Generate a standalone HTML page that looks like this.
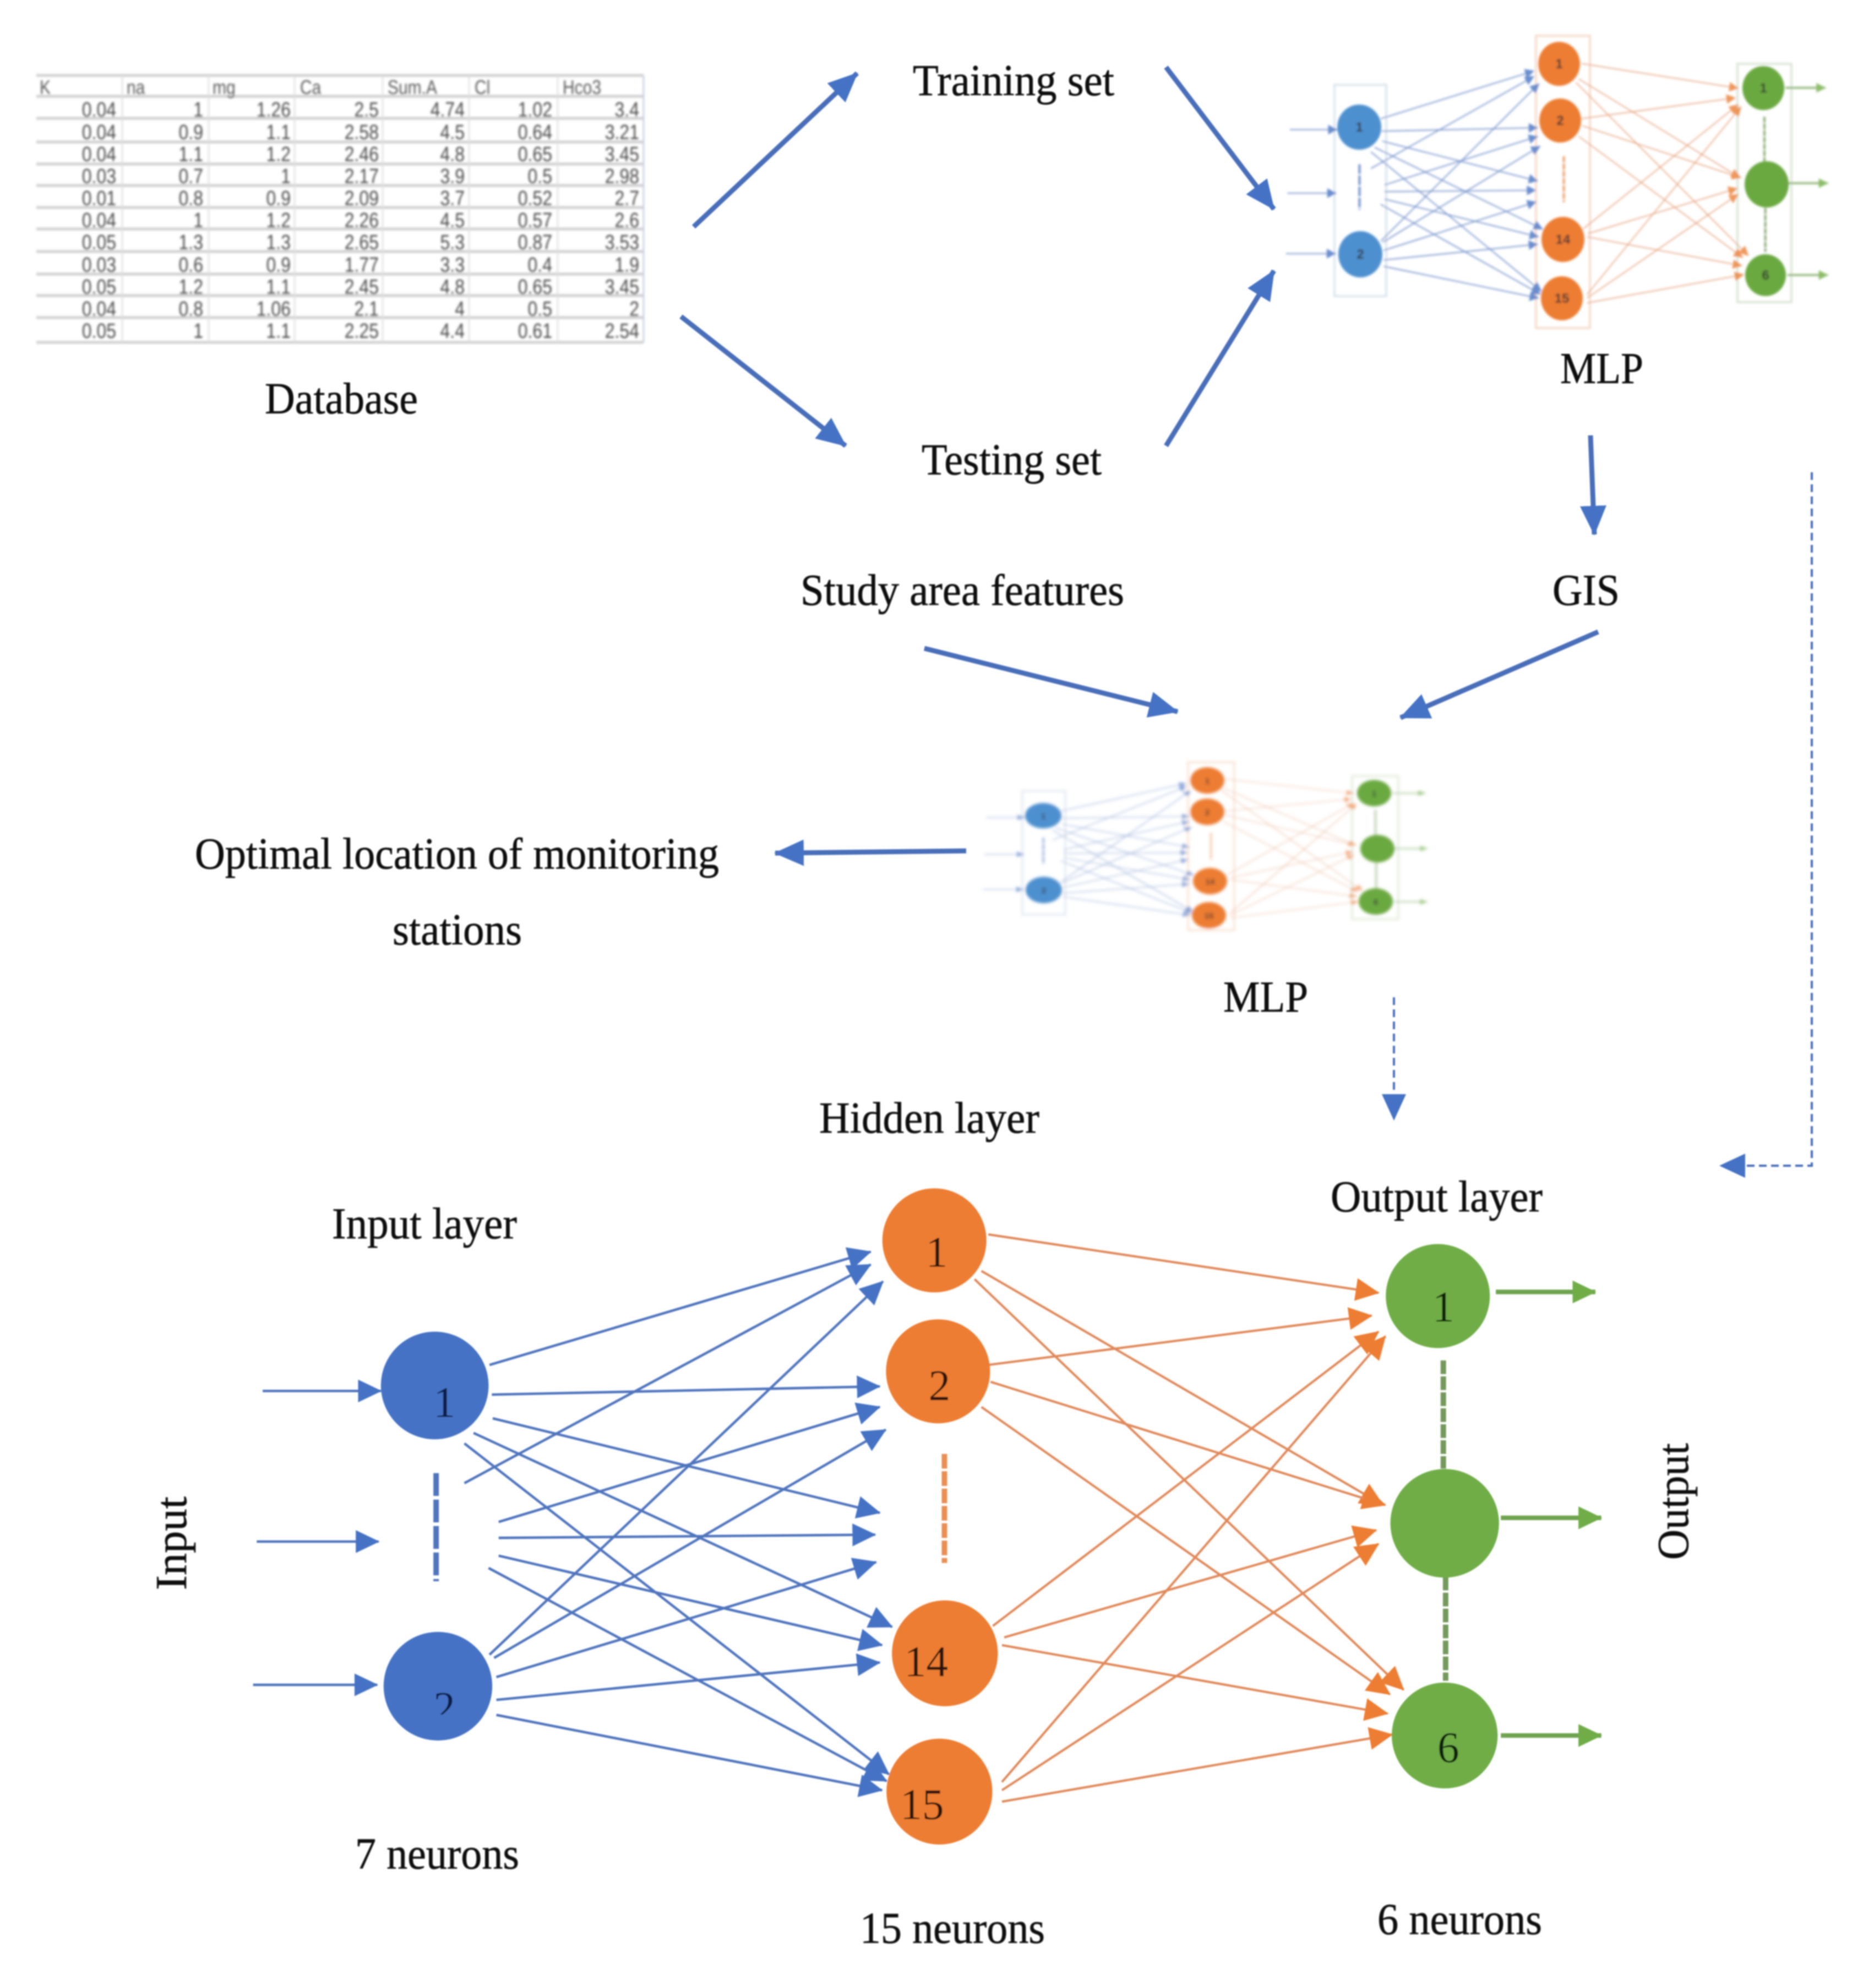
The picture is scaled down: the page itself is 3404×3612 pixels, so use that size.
<!DOCTYPE html>
<html><head><meta charset="utf-8"><title>MLP diagram</title>
<style>
html,body{margin:0;padding:0;background:#fff}
svg{display:block}
.t{font-family:"Liberation Serif",serif;font-size:80px;fill:#0c0c0c;stroke:#0c0c0c;stroke-width:.6}
.c text{font-family:"Liberation Sans",sans-serif;font-size:32px;fill:#4a4a4a;text-anchor:end}
.h{font-family:"Liberation Sans",sans-serif;font-size:30px;fill:#5a5a5a}
.n{font-family:"Liberation Serif",serif;font-size:96px;fill:#111}
.bl line{stroke:#4f74bd;stroke-width:5.5;marker-end:url(#mb)}
.ol line{stroke:#e0895a;stroke-width:5;marker-end:url(#mo)}
.gl line{stroke:#70a34f;stroke-width:10;marker-end:url(#mg)}
.big line{stroke:#4a6eb9;stroke-width:9;marker-end:url(#mB)}
.m1{font-family:"Liberation Sans",sans-serif;font-size:24px;fill:#333;text-anchor:middle;font-weight:bold}
.m2{font-family:"Liberation Sans",sans-serif;font-size:15px;fill:#333;text-anchor:middle;font-weight:bold}
</style></head>
<body>
<svg xmlns="http://www.w3.org/2000/svg" width="3404" height="3612" viewBox="0 0 3404 3612">
<defs>
<filter id="b1"><feGaussianBlur stdDeviation="1.3"/></filter>
<filter id="b2"><feGaussianBlur stdDeviation="2.2"/></filter>
<filter id="b3" x="-5%" y="-5%" width="110%" height="110%"><feGaussianBlur stdDeviation="3"/></filter>
<marker id="mb" markerUnits="userSpaceOnUse" markerWidth="60" markerHeight="60" refX="50" refY="30" orient="auto"><path d="M0 5L52 30L0 55Z" fill="#4472c4"/></marker>
<marker id="mo" markerUnits="userSpaceOnUse" markerWidth="60" markerHeight="60" refX="50" refY="30" orient="auto"><path d="M0 5L52 30L0 55Z" fill="#ed7d31"/></marker>
<marker id="mg" markerUnits="userSpaceOnUse" markerWidth="60" markerHeight="60" refX="50" refY="30" orient="auto"><path d="M0 5L52 30L0 55Z" fill="#70ad47"/></marker>
<marker id="mB" markerUnits="userSpaceOnUse" markerWidth="70" markerHeight="70" refX="52" refY="35" orient="auto"><path d="M0 11L54 35L0 59Z" fill="#4472c4"/></marker>
<clipPath id="cl2"><rect x="430" y="1060" width="120" height="104"/></clipPath>
<g id="netlines">
 <g transform="translate(400,2150) scale(.8291)">
  <g class="bl">
   <line x1="590" y1="398" x2="1425" y2="150"/>
   <line x1="595" y1="463" x2="1445" y2="445"/>
   <line x1="597" y1="515" x2="1445" y2="722"/>
   <line x1="555" y1="547" x2="1472" y2="972"/>
   <line x1="535" y1="570" x2="1465" y2="1295"/>
   <line x1="535" y1="657" x2="1425" y2="178"/>
   <line x1="610" y1="742" x2="1445" y2="490"/>
   <line x1="610" y1="777" x2="1435" y2="770"/>
   <line x1="610" y1="816" x2="1450" y2="1012"/>
   <line x1="588" y1="843" x2="1460" y2="1310"/>
   <line x1="590" y1="1033" x2="1452" y2="215"/>
   <line x1="600" y1="1040" x2="1458" y2="540"/>
   <line x1="605" y1="1082" x2="1437" y2="830"/>
   <line x1="605" y1="1132" x2="1445" y2="1050"/>
   <line x1="605" y1="1165" x2="1450" y2="1330"/>
   <line x1="93" y1="455" x2="352" y2="455"/>
   <line x1="80" y1="785" x2="347" y2="785"/>
   <line x1="72" y1="1099" x2="344" y2="1099"/>
  </g>
  <path d="M473 635V872" stroke="#4f74bd" stroke-width="12" stroke-dasharray="50 8" fill="none"/>
 </g>
 <g transform="translate(1650,2150) scale(.8291)">
  <g class="ol">
   <line x1="175" y1="112" x2="1030" y2="240"/>
   <line x1="160" y1="192" x2="1040" y2="705"/>
   <line x1="145" y1="210" x2="1085" y2="1110"/>
   <line x1="175" y1="398" x2="1015" y2="290"/>
   <line x1="180" y1="435" x2="1045" y2="705"/>
   <line x1="160" y1="490" x2="1055" y2="1120"/>
   <line x1="185" y1="970" x2="1030" y2="325"/>
   <line x1="210" y1="995" x2="1025" y2="760"/>
   <line x1="205" y1="1012" x2="1050" y2="1162"/>
   <line x1="205" y1="1312" x2="1045" y2="335"/>
   <line x1="205" y1="1330" x2="1030" y2="790"/>
   <line x1="205" y1="1355" x2="1060" y2="1208"/>
  </g>
  <path d="M79 593V832" stroke="#e98f52" stroke-width="12" stroke-dasharray="32 6" fill="none"/>
  <path d="M1172 388V625M1177 862V1090" stroke="#74995c" stroke-width="12" stroke-dasharray="30 5" fill="none"/>
  <g class="gl">
   <line x1="1287" y1="238" x2="1505" y2="238"/>
   <line x1="1298" y1="733" x2="1518" y2="733"/>
   <line x1="1298" y1="1210" x2="1518" y2="1210"/>
  </g>
 </g>
</g>
</defs>

<!-- table -->
<g filter="url(#b2)">
 <g stroke="#cfcfcf" stroke-width="5" fill="none">
  <path d="M66 137H1169M66 175H1169M66 215H1169M66 258H1169M66 298H1169M66 337H1169M66 377H1169M66 416H1169M66 457H1169M66 498H1169M66 537H1169M66 577H1169M66 622H1169"/>
 </g>
 <g stroke="#dfdfdf" stroke-width="2.5" fill="none">
  <path d="M222 137V622M379 137V622M535 137V622M695 137V622M852 137V622M1013 137V622"/>
 </g>
 <path d="M1169 137V622" stroke="#c8d2e0" stroke-width="3"/>
 <g transform="translate(0,171) scale(1,1.2)"><text class="h" x="72">K</text><text class="h" x="230">na</text><text class="h" x="386">mg</text><text class="h" x="545">Ca</text><text class="h" x="704">Sum.A</text><text class="h" x="862">Cl</text><text class="h" x="1022">Hco3</text></g>
 <g class="c" transform="translate(0,212) scale(1,1.2)"><text x="211">0.04</text><text x="369">1</text><text x="528">1.26</text><text x="688">2.5</text><text x="844">4.74</text><text x="1003">1.02</text><text x="1161">3.4</text></g>
 <g class="c" transform="translate(0,253) scale(1,1.2)"><text x="211">0.04</text><text x="369">0.9</text><text x="528">1.1</text><text x="688">2.58</text><text x="844">4.5</text><text x="1003">0.64</text><text x="1161">3.21</text></g>
 <g class="c" transform="translate(0,293) scale(1,1.2)"><text x="211">0.04</text><text x="369">1.1</text><text x="528">1.2</text><text x="688">2.46</text><text x="844">4.8</text><text x="1003">0.65</text><text x="1161">3.45</text></g>
 <g class="c" transform="translate(0,333) scale(1,1.2)"><text x="211">0.03</text><text x="369">0.7</text><text x="528">1</text><text x="688">2.17</text><text x="844">3.9</text><text x="1003">0.5</text><text x="1161">2.98</text></g>
 <g class="c" transform="translate(0,373) scale(1,1.2)"><text x="211">0.01</text><text x="369">0.8</text><text x="528">0.9</text><text x="688">2.09</text><text x="844">3.7</text><text x="1003">0.52</text><text x="1161">2.7</text></g>
 <g class="c" transform="translate(0,413) scale(1,1.2)"><text x="211">0.04</text><text x="369">1</text><text x="528">1.2</text><text x="688">2.26</text><text x="844">4.5</text><text x="1003">0.57</text><text x="1161">2.6</text></g>
 <g class="c" transform="translate(0,453) scale(1,1.2)"><text x="211">0.05</text><text x="369">1.3</text><text x="528">1.3</text><text x="688">2.65</text><text x="844">5.3</text><text x="1003">0.87</text><text x="1161">3.53</text></g>
 <g class="c" transform="translate(0,494) scale(1,1.2)"><text x="211">0.03</text><text x="369">0.6</text><text x="528">0.9</text><text x="688">1.77</text><text x="844">3.3</text><text x="1003">0.4</text><text x="1161">1.9</text></g>
 <g class="c" transform="translate(0,534) scale(1,1.2)"><text x="211">0.05</text><text x="369">1.2</text><text x="528">1.1</text><text x="688">2.45</text><text x="844">4.8</text><text x="1003">0.65</text><text x="1161">3.45</text></g>
 <g class="c" transform="translate(0,574) scale(1,1.2)"><text x="211">0.04</text><text x="369">0.8</text><text x="528">1.06</text><text x="688">2.1</text><text x="844">4</text><text x="1003">0.5</text><text x="1161">2</text></g>
 <g class="c" transform="translate(0,614) scale(1,1.2)"><text x="211">0.05</text><text x="369">1</text><text x="528">1.1</text><text x="688">2.25</text><text x="844">4.4</text><text x="1003">0.61</text><text x="1161">2.54</text></g>
</g>

<!-- labels and large arrows -->
<g filter="url(#b1)">
 <text class="t" x="481" y="751" textLength="278" lengthAdjust="spacingAndGlyphs">Database</text>
 <text class="t" x="1658" y="173" textLength="366" lengthAdjust="spacingAndGlyphs">Training set</text>
 <text class="t" x="1674" y="862" textLength="327" lengthAdjust="spacingAndGlyphs">Testing set</text>
 <text class="t" x="2834" y="696" textLength="151" lengthAdjust="spacingAndGlyphs">MLP</text>
 <text class="t" x="1454" y="1099" textLength="588" lengthAdjust="spacingAndGlyphs">Study area features</text>
 <text class="t" x="2820" y="1099" textLength="122" lengthAdjust="spacingAndGlyphs">GIS</text>
 <text class="t" x="354" y="1578" textLength="952" lengthAdjust="spacingAndGlyphs">Optimal location of monitoring</text>
 <text class="t" x="713" y="1716" textLength="235" lengthAdjust="spacingAndGlyphs">stations</text>
 <text class="t" x="2222" y="1838" textLength="154" lengthAdjust="spacingAndGlyphs">MLP</text>
 <text class="t" x="1488" y="2058" textLength="400" lengthAdjust="spacingAndGlyphs">Hidden layer</text>
 <text class="t" x="603" y="2250" textLength="336" lengthAdjust="spacingAndGlyphs">Input layer</text>
 <text class="t" x="2417" y="2201" textLength="385" lengthAdjust="spacingAndGlyphs">Output layer</text>
 <text class="t" x="645" y="3395" textLength="298" lengthAdjust="spacingAndGlyphs">7 neurons</text>
 <text class="t" x="1562" y="3530" textLength="336" lengthAdjust="spacingAndGlyphs">15 neurons</text>
 <text class="t" x="2502" y="3514" textLength="299" lengthAdjust="spacingAndGlyphs">6 neurons</text>
 <text class="t" transform="translate(338,2889) rotate(-90)" textLength="170" lengthAdjust="spacingAndGlyphs">Input</text>
 <text class="t" transform="translate(3066,2834) rotate(-90)" textLength="212" lengthAdjust="spacingAndGlyphs">Output</text>
 <g class="big">
  <line x1="1260" y1="412" x2="1557" y2="133"/>
  <line x1="2118" y1="122" x2="2314" y2="380"/>
  <line x1="1237" y1="575" x2="1536" y2="810"/>
  <line x1="2118" y1="810" x2="2314" y2="492"/>
  <line x1="2889" y1="791" x2="2896" y2="971"/>
  <line x1="1679" y1="1178" x2="2139" y2="1293"/>
  <line x1="2903" y1="1148" x2="2544" y2="1304"/>
  <line x1="1755" y1="1546" x2="1408" y2="1550"/>
 </g>
 <path d="M2532 1812V1990" stroke="#4a6eb9" stroke-width="4" stroke-dasharray="14 8" fill="none"/>
 <path d="M2510 1988H2554L2532 2036Z" fill="#4472c4"/>
 <path d="M3291 858V2118H3165" stroke="#4a6eb9" stroke-width="4" stroke-dasharray="14 8" fill="none"/>
 <path d="M3170 2096V2140L3123 2118Z" fill="#4472c4"/>

 <!-- main network -->
 <use href="#netlines"/>
 <g transform="translate(400,2150) scale(.8291)">
  <circle cx="470" cy="443" r="118" fill="#4472c4"/>
  <circle cx="477" cy="1102" r="119" fill="#4472c4"/>
  <text class="n" x="467" y="512" style="fill:#0d1f4a">1</text>
  <text class="n" x="467" y="1180" clip-path="url(#cl2)" style="fill:#0d1f4a">2</text>
 </g>
 <g transform="translate(1650,2150) scale(.8291)">
  <circle cx="57" cy="125" r="114" fill="#ed7d31"/>
  <circle cx="65" cy="412" r="114" fill="#ed7d31"/>
  <circle cx="80" cy="1030" r="116" fill="#ed7d31"/>
  <circle cx="68" cy="1333" r="116" fill="#ed7d31"/>
  <circle cx="1160" cy="247" r="114" fill="#70ad47"/>
  <circle cx="1175" cy="745" r="119" fill="#70ad47"/>
  <circle cx="1175" cy="1210" r="116" fill="#70ad47"/>
  <text class="n" x="38" y="183" style="fill:#2a1408">1</text>
  <text class="n" x="44" y="475" style="fill:#2a1408">2</text>
  <text class="n" x="-9" y="1080" style="fill:#2a1408">14</text>
  <text class="n" x="-18" y="1393" style="fill:#2a1408">15</text>
  <text class="n" x="1148" y="303" style="fill:#10240a">1</text>
  <text class="n" x="1159" y="1268" style="fill:#10240a">6</text>
 </g>
</g>

<!-- top mini MLP -->
<g filter="url(#b2)">
 <g fill="none" stroke-width="4">
  <rect x="2424" y="154" width="94" height="384" stroke="#dde6ef"/>
  <rect x="2790" y="65" width="98" height="531" stroke="#f6ddcd"/>
  <rect x="3156" y="116" width="98" height="433" stroke="#dde6d8"/>
 </g>
 <use href="#netlines" transform="translate(2151,-831) scale(.402,.422)" opacity=".8"/>
 <ellipse cx="2469" cy="231" rx="40" ry="41" fill="#4e90cf"/>
 <ellipse cx="2471" cy="462" rx="40" ry="42" fill="#4e90cf"/>
 <ellipse cx="2832" cy="116" rx="38" ry="40" fill="#ed7d31"/>
 <ellipse cx="2834" cy="219" rx="38" ry="40" fill="#ed7d31"/>
 <ellipse cx="2839" cy="435" rx="39" ry="41" fill="#ed7d31"/>
 <ellipse cx="2837" cy="542" rx="38" ry="40" fill="#ed7d31"/>
 <ellipse cx="3203" cy="160" rx="38" ry="40" fill="#6aa93f"/>
 <ellipse cx="3209" cy="335" rx="40" ry="42" fill="#6aa93f"/>
 <ellipse cx="3207" cy="500" rx="37" ry="38" fill="#6aa93f"/>
 <text class="m1" x="2469" y="239">1</text><text class="m1" x="2471" y="470">2</text>
 <text class="m1" x="2832" y="124">1</text><text class="m1" x="2834" y="227">2</text><text class="m1" x="2839" y="443">14</text><text class="m1" x="2837" y="550">15</text>
 <text class="m1" x="3203" y="168">1</text><text class="m1" x="3207" y="508">6</text>
</g>

<!-- lower mini MLP -->
<g filter="url(#b3)">
 <g fill="none" stroke-width="4">
  <rect x="1857" y="1437" width="78" height="225" stroke="#e6ecf4"/>
  <rect x="2158" y="1385" width="84" height="305" stroke="#fae6da"/>
  <rect x="2456" y="1410" width="84" height="260" stroke="#e6eee0"/>
 </g>
 <use href="#netlines" transform="translate(1634,866) scale(.3297,.245)" opacity=".62"/>
 <ellipse cx="1895" cy="1482" rx="33" ry="23" fill="#4e90cf"/>
 <ellipse cx="1896" cy="1617" rx="33" ry="24" fill="#4e90cf"/>
 <ellipse cx="2193" cy="1418" rx="31" ry="24" fill="#ed7d31"/>
 <ellipse cx="2193" cy="1475" rx="31" ry="24" fill="#ed7d31"/>
 <ellipse cx="2198" cy="1601" rx="31" ry="24" fill="#ed7d31"/>
 <ellipse cx="2196" cy="1663" rx="31" ry="24" fill="#ed7d31"/>
 <ellipse cx="2496" cy="1441" rx="31" ry="24" fill="#6aa93f"/>
 <ellipse cx="2502" cy="1542" rx="31" ry="25" fill="#6aa93f"/>
 <ellipse cx="2499" cy="1638" rx="31" ry="24" fill="#6aa93f"/>
 <text class="m2" x="1895" y="1488">1</text><text class="m2" x="1896" y="1623">2</text>
 <text class="m2" x="2193" y="1424">1</text><text class="m2" x="2193" y="1481">2</text><text class="m2" x="2198" y="1607">14</text><text class="m2" x="2196" y="1669">15</text>
 <text class="m2" x="2496" y="1447">1</text><text class="m2" x="2499" y="1644">6</text>
</g>
</svg>
</body></html>
